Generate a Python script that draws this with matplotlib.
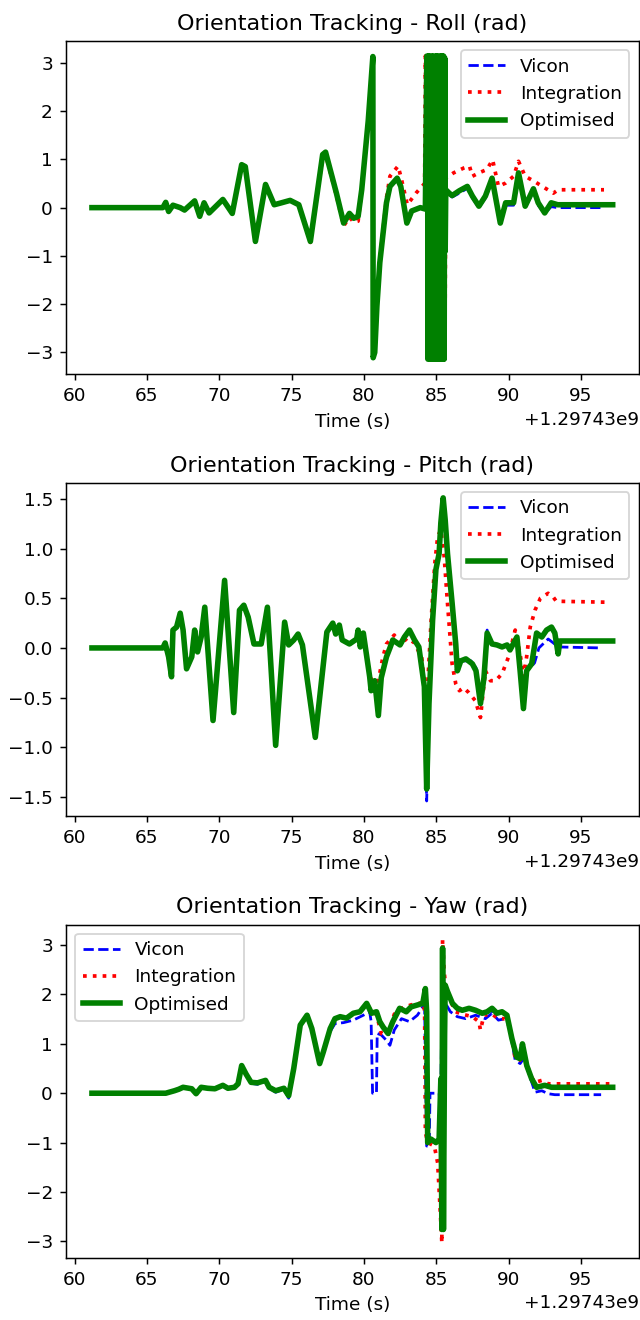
import numpy as np
import matplotlib.pyplot as plt

# time stamps are seconds after this epoch value
T0 = 1297430000.0

# ---- Roll ----
roll_opt_t = [61.2, 66.1, 66.3, 66.5, 66.8, 67.3, 67.6, 68.3, 68.65, 68.95, 69.3, 70.25, 70.9,
              71.55, 71.8, 72.5, 73.2, 73.8, 74.3, 74.9, 75.5, 76.3, 77.15, 77.35, 78.1, 78.6,
              79.0, 79.3, 79.6, 79.85, 80.3, 80.62, 80.64, 80.75, 80.9, 81.1, 81.56, 81.8, 82.3,
              82.55, 82.97, 83.3, 83.9, 84.25, 84.35,
              84.40, 84.43, 84.47, 84.51, 84.55, 84.59, 84.63, 84.67, 84.71, 84.75, 84.79, 84.83,
              84.87, 84.91, 84.95, 84.99, 85.03, 85.07, 85.11, 85.15, 85.19, 85.23, 85.27, 85.31,
              85.35, 85.39, 85.43, 85.47, 85.51, 85.55, 85.59, 85.62,
              85.66, 85.9, 86.1, 86.6, 87.15, 87.5, 87.95, 88.4, 88.86, 89.43, 89.8, 90.35, 90.69,
              91.15, 91.72, 92.05, 92.5, 92.95, 93.4, 97.2]
roll_opt = [0.0, 0.0, 0.11, -0.08, 0.05, 0.0, -0.05, 0.14, -0.18, 0.1, -0.11, 0.17, -0.12,
            0.89, 0.85, -0.7, 0.48, 0.06, 0.1, 0.15, 0.06, -0.7, 1.1, 1.15, 0.3, -0.32,
            -0.12, -0.22, -0.18, 0.37, 1.8, 3.13, -3.11, -3.0, -2.04, -1.14, 0.1, 0.44, 0.61,
            0.44, -0.32, -0.07, 0.0, -0.03, 3.14,
            3.14, -3.14, 3.14, -3.12, 3.14, -3.14, 3.13, -3.14, 3.14, -3.13, 3.14, -3.14,
            3.12, -3.14, 3.14, -3.14, 3.14, -3.13, 3.14, -3.14, 3.13, -3.14, 3.14, -3.14,
            3.14, -3.12, 3.14, -3.14, 3.14, -3.14, 3.1, -0.9,
            0.37, 0.3, 0.25, 0.35, 0.44, 0.24, 0.03, 0.24, 0.61, -0.32, 0.1, 0.1, 0.72,
            0.03, 0.39, 0.1, -0.11, 0.1, 0.06, 0.06]

roll_vic_t = [61.2, 66.1, 66.3, 66.5, 66.8, 67.3, 67.6, 68.3, 68.65, 68.95, 69.3, 70.25, 70.9,
              71.55, 71.8, 72.5, 73.2, 73.8, 74.3, 74.9, 75.5, 76.3, 77.15, 77.35, 78.1, 78.6,
              79.0, 79.3, 79.6, 79.85, 80.3, 80.62, 80.64, 80.9, 81.1, 81.56, 81.8, 82.3,
              82.55, 82.97, 83.3, 83.9, 84.25, 84.35, 84.6, 84.9, 85.2, 85.5, 85.62,
              85.66, 86.1, 86.6, 87.15, 87.5, 87.95, 88.4, 88.86, 89.43, 89.8, 90.35, 90.69,
              91.15, 91.72, 92.05, 92.5, 92.95, 93.4, 96.4]
roll_vic = [0.0, 0.0, 0.11, -0.08, 0.05, 0.0, -0.05, 0.14, -0.18, 0.1, -0.11, 0.17, -0.12,
            0.89, 0.85, -0.72, 0.48, 0.06, 0.1, 0.15, 0.06, -0.72, 1.1, 1.13, 0.3, -0.32,
            -0.12, -0.22, -0.18, 0.37, 1.8, 3.13, -3.11, -2.04, -1.14, 0.1, 0.42, 0.58,
            0.42, -0.32, -0.07, 0.0, -0.03, 3.14, -3.14, 3.14, -3.14, 3.14, -0.9,
            0.33, 0.22, 0.3, 0.4, 0.2, 0.0, 0.2, 0.55, -0.32, 0.05, 0.05, 0.65,
            0.0, 0.33, 0.05, -0.12, 0.02, 0.0, 0.0]

roll_int_t = [61.2, 66.1, 66.3, 66.5, 66.8, 67.3, 67.6, 68.3, 68.65, 68.95, 69.3, 70.25, 70.9,
              71.55, 71.8, 72.5, 73.2, 73.8, 74.3, 74.9, 75.5, 76.3, 77.15, 77.35, 78.1, 78.6,
              79.0, 79.3, 79.6, 79.85, 80.3, 80.62, 80.64, 80.9, 81.1, 81.56, 81.8, 82.36,
              82.55, 83.0, 83.6, 84.2, 84.25, 84.5, 84.7, 85.0, 85.3, 85.6,
              85.66, 86.2, 86.9, 87.3, 87.5, 87.95, 88.5, 88.9, 89.3, 89.8, 90.35, 90.69,
              91.15, 91.8, 92.5, 93.1, 93.43, 96.6]
roll_int = [0.0, 0.0, 0.11, -0.08, 0.05, 0.0, -0.05, 0.14, -0.18, 0.1, -0.11, 0.17, -0.12,
            0.89, 0.85, -0.7, 0.48, 0.06, 0.1, 0.15, 0.06, -0.72, 1.05, 1.1, 0.25, -0.38,
            -0.2, -0.3, -0.28, 0.35, 1.8, 3.13, -3.11, -2.04, -1.1, 0.2, 0.65, 0.86,
            0.65, 0.06, 0.3, 0.5, 3.14, -3.14, 3.14, -3.14, 3.14, -3.14,
            0.61, 0.72, 0.82, 0.86, 0.65, 0.72, 0.79, 0.99, 0.44, 0.51, 0.65, 0.96,
            0.65, 0.54, 0.41, 0.3, 0.37, 0.37]

# ---- Pitch ----
pitch_opt_t = [61.2, 66.1, 66.26, 66.5, 66.7, 66.8, 67.05, 67.3, 67.5, 67.74, 68.1, 68.3, 68.5,
               68.75, 69.0, 69.57, 70.37, 71.0, 71.4, 71.7, 72.0, 72.4, 72.9, 73.33, 73.9,
               74.52, 74.8, 75.15, 75.45, 75.75, 76.64, 77.44, 77.85, 78.05, 78.3, 78.5, 79.0,
               79.5, 79.6, 79.75, 79.96, 80.2, 80.4, 80.5, 80.75, 81.0, 81.2, 81.56, 81.8, 82.0,
               82.5, 82.8, 83.15, 83.5, 83.8, 84.18, 84.34, 84.5, 84.75, 84.98, 85.2, 85.32,
               85.48, 85.62, 85.78, 86.1, 86.35, 86.46, 86.7, 87.05, 87.5, 87.75, 88.06, 88.3,
               88.52, 88.86, 89.2, 89.55, 89.9, 90.1, 90.58, 90.8, 91.03, 91.25, 91.6, 91.94,
               92.3, 92.63, 92.97, 93.2, 93.43, 93.55, 97.2]
pitch_opt = [0.0, 0.0, 0.05, -0.09, -0.29, 0.18, 0.21, 0.35, 0.18, -0.21, -0.09, 0.18, -0.04,
             0.11, 0.41, -0.73, 0.68, -0.65, 0.38, 0.43, 0.31, 0.04, 0.04, 0.41, -0.98,
             0.26, 0.03, 0.08, 0.14, 0.03, -0.9, 0.16, 0.25, 0.14, 0.23, 0.08, 0.04,
             0.09, 0.18, 0.01, 0.15, -0.09, -0.29, -0.43, -0.33, -0.68, -0.3, -0.09, 0.0, 0.08,
             0.03, 0.11, 0.18, 0.08, 0.01, -0.39, -1.42, -0.56, 0.28, 0.79, 0.95, 1.26,
             1.51, 1.29, 0.95, 0.45, 0.04, -0.23, -0.13, -0.11, -0.16, -0.23, -0.56, -0.3,
             0.15, 0.04, 0.03, 0.01, 0.03, -0.02, 0.11, -0.23, -0.61, -0.23, -0.16, 0.15,
             0.11, 0.18, 0.21, 0.15, -0.06, 0.07, 0.07]

pitch_vic_t = [61.2, 66.1, 66.26, 66.5, 66.7, 66.8, 67.05, 67.3, 67.5, 67.74, 68.1, 68.3, 68.5,
               68.75, 69.0, 69.57, 70.37, 71.0, 71.4, 71.7, 72.0, 72.4, 72.9, 73.33, 73.9,
               74.52, 74.8, 75.15, 75.45, 75.75, 76.64, 77.44, 77.85, 78.05, 78.3, 78.5, 79.0,
               79.5, 79.6, 79.75, 79.96, 80.2, 80.4, 80.5, 80.75, 81.0, 81.2, 81.56, 81.8, 82.0,
               82.5, 82.8, 83.15, 83.5, 83.8, 84.18, 84.34, 84.5, 84.75, 84.98, 85.2, 85.32,
               85.48, 85.62, 85.78, 86.1, 86.35, 86.46, 86.8, 87.4, 87.75, 88.06, 88.3,
               88.52, 88.86, 89.2, 89.55, 89.9, 90.1, 90.58, 90.8, 91.03, 91.25, 91.5, 91.8,
               92.1, 92.74, 93.1, 93.43, 96.4]
pitch_vic = [0.0, 0.0, 0.05, -0.09, -0.29, 0.18, 0.21, 0.35, 0.18, -0.21, -0.09, 0.18, -0.04,
             0.11, 0.41, -0.73, 0.68, -0.65, 0.38, 0.43, 0.31, 0.04, 0.04, 0.41, -0.98,
             0.26, 0.03, 0.08, 0.14, 0.03, -0.9, 0.16, 0.25, 0.14, 0.23, 0.08, 0.04,
             0.09, 0.18, 0.01, 0.15, -0.09, -0.29, -0.43, -0.33, -0.68, -0.3, -0.09, 0.0, 0.08,
             0.03, 0.11, 0.18, 0.08, 0.01, -0.39, -1.54, -0.56, 0.28, 0.79, 0.95, 1.26,
             1.5, 1.29, 0.95, 0.45, 0.04, -0.1, -0.13, -0.13, -0.2, -0.56, -0.3,
             0.18, 0.04, 0.03, 0.01, 0.03, -0.02, 0.11, -0.23, -0.6, -0.23, -0.2, -0.15,
             0.0, 0.09, 0.05, 0.01, 0.0]

pitch_int_t = [61.2, 66.1, 66.26, 66.5, 66.7, 66.8, 67.05, 67.3, 67.5, 67.74, 68.1, 68.3, 68.5,
               68.75, 69.0, 69.57, 70.37, 71.0, 71.4, 71.7, 72.0, 72.4, 72.9, 73.33, 73.9,
               74.52, 74.8, 75.15, 75.45, 75.75, 76.64, 77.44, 77.85, 78.05, 78.3, 78.5, 79.0,
               79.5, 79.6, 79.75, 79.96, 80.2, 80.4, 80.7, 81.0, 81.3, 81.56, 82.1, 82.5,
               83.0, 83.5, 84.0, 84.34, 84.65, 84.9, 85.1, 85.32, 85.55, 85.78, 86.1, 86.35,
               86.6, 86.9, 87.25, 87.7, 88.06, 88.4, 88.75, 89.1, 89.55, 90.0, 90.46, 90.8,
               91.03, 91.25, 91.5, 91.83, 92.2, 92.74, 93.1, 93.3, 96.85]
pitch_int = [0.0, 0.0, 0.05, -0.09, -0.29, 0.18, 0.21, 0.35, 0.18, -0.21, -0.09, 0.18, -0.04,
             0.11, 0.41, -0.73, 0.68, -0.65, 0.38, 0.43, 0.31, 0.04, 0.04, 0.41, -0.98,
             0.26, 0.03, 0.08, 0.14, 0.03, -0.9, 0.16, 0.25, 0.14, 0.23, 0.08, 0.04,
             0.09, 0.18, 0.01, 0.15, -0.09, -0.29, -0.35, -0.33, -0.1, 0.04, 0.13, 0.03,
             0.1, 0.05, -0.1, -0.56, 0.28, 0.85, 1.12, 1.19, 0.92, 0.45, -0.16, -0.36,
             -0.43, -0.4, -0.45, -0.53, -0.7, -0.23, -0.33, -0.33, -0.26, -0.09, 0.18, -0.06,
             -0.29, -0.09, 0.21, 0.38, 0.5, 0.55, 0.51, 0.47, 0.46]

# ---- Yaw ----
yaw_opt_t = [61.2, 66.3, 66.9, 67.2, 67.5, 68.1, 68.4, 68.75, 69.2, 69.7, 70.25, 70.6, 71.05,
             71.3, 71.55, 71.85, 72.2, 72.65, 73.2, 73.45, 73.9, 74.47, 74.8, 75.15, 75.6,
             76.07, 76.4, 76.94, 77.2, 77.67, 78.0, 78.36, 78.8, 79.27, 79.73, 80.19, 80.53,
             80.87, 81.1, 81.33, 81.67, 82.0, 82.47, 82.93, 83.27, 83.73, 84.07, 84.25, 84.34,
             84.41, 84.64, 84.98, 85.2, 85.32, 85.39, 85.44, 85.5, 85.58, 85.62, 85.78, 86.12,
             86.46, 86.8, 87.27, 87.72, 88.18, 88.52, 88.86, 89.2, 89.55, 89.89, 90.23, 90.57,
             90.8, 90.96, 91.26, 91.6, 91.94, 92.5, 92.97, 97.2]
yaw_opt = [0.0, 0.0, 0.05, 0.08, 0.12, 0.09, -0.01, 0.12, 0.1, 0.09, 0.16, 0.1, 0.12,
           0.19, 0.56, 0.39, 0.22, 0.21, 0.26, 0.12, 0.05, 0.1, -0.05, 0.5, 1.38,
           1.58, 1.31, 0.6, 0.84, 1.31, 1.51, 1.55, 1.52, 1.62, 1.65, 1.82, 1.62,
           1.65, 1.45, 1.34, 1.21, 1.45, 1.72, 1.65, 1.75, 1.79, 1.82, 2.12, 1.65,
           -1.0, -0.93, -1.0, -0.93, 0.29, -2.76, 2.94, -2.76, 1.18, 2.19, 2.06, 1.82,
           1.72, 1.68, 1.72, 1.68, 1.62, 1.65, 1.72, 1.62, 1.65, 1.58, 1.11, 0.73,
           0.7, 1.0, 0.56, 0.29, 0.12, 0.16, 0.12, 0.12]

yaw_vic_t = [61.2, 66.3, 66.9, 67.2, 67.5, 68.1, 68.4, 68.75, 69.2, 69.7, 70.25, 70.6, 71.05,
             71.3, 71.55, 71.85, 72.2, 72.65, 73.2, 73.45, 73.9, 74.47, 74.8, 75.15, 75.6,
             76.07, 76.4, 76.94, 77.2, 77.67, 78.0, 78.6, 79.27, 79.96, 80.4, 80.5, 80.6,
             80.87, 80.92, 81.2, 81.56, 81.8, 82.1, 82.6, 83.15, 83.7, 84.07, 84.2, 84.34,
             84.52, 84.57, 85.2, 85.3, 85.44, 85.58, 85.98, 86.46, 87.04, 87.72, 88.4, 88.86,
             89.3, 89.77, 90.0, 90.46, 90.8, 91.03, 91.37, 91.83, 92.3, 92.74, 93.2, 96.4]
yaw_vic = [0.0, 0.0, 0.05, 0.08, 0.12, 0.09, -0.01, 0.12, 0.1, 0.09, 0.16, 0.1, 0.12,
           0.19, 0.56, 0.39, 0.2, 0.18, 0.24, 0.1, 0.02, 0.08, -0.1, 0.5, 1.38,
           1.58, 1.31, 0.62, 0.84, 1.25, 1.41, 1.43, 1.48, 1.58, 1.65, 1.45, 0.0,
           0.0, 1.21, 1.18, 1.07, 0.97, 1.28, 1.51, 1.45, 1.58, 1.75, 1.71, -1.07,
           -1.07, 0.0, 0.0, -0.4, 2.87, 1.85, 1.65, 1.55, 1.51, 1.58, 1.51, 1.62,
           1.48, 1.51, 1.41, 0.67, 0.6, 0.7, 0.43, 0.02, 0.05, -0.01, -0.03, -0.03]

yaw_int_t = [61.2, 66.3, 66.9, 67.2, 67.5, 68.1, 68.4, 68.75, 69.2, 69.7, 70.25, 70.6, 71.05,
             71.3, 71.55, 71.85, 72.2, 72.65, 73.2, 73.45, 73.9, 74.47, 74.8, 75.15, 75.6,
             76.07, 76.4, 76.94, 77.2, 77.67, 78.0, 78.36, 78.8, 79.27, 79.73, 80.19, 80.53,
             80.87, 81.2, 81.67, 82.1, 82.6, 83.27, 83.84, 84.1, 84.2, 84.25, 84.41, 84.87,
             85.1, 85.26, 85.39, 85.44, 85.55, 85.67, 85.9, 86.35, 86.8, 87.5, 87.95, 88.06,
             88.3, 88.86, 89.3, 89.77, 90.12, 90.46, 90.8, 91.03, 91.5, 91.83, 92.3, 92.74, 96.97]
yaw_int = [0.0, 0.0, 0.05, 0.08, 0.12, 0.09, -0.01, 0.12, 0.1, 0.09, 0.16, 0.1, 0.12,
           0.19, 0.56, 0.39, 0.22, 0.21, 0.26, 0.12, 0.05, 0.1, -0.05, 0.5, 1.38,
           1.58, 1.31, 0.62, 0.84, 1.31, 1.51, 1.55, 1.52, 1.62, 1.65, 1.82, 1.65,
           1.6, 1.21, 1.17, 1.6, 1.72, 1.79, 1.82, 1.85, 1.65, -0.79, -1.0, -1.07,
           -1.41, -2.29, -3.03, 3.11, 2.46, 2.12, 1.92, 1.65, 1.6, 1.55, 1.45, 1.28,
           1.58, 1.6, 1.51, 1.51, 1.31, 0.7, 0.67, 0.87, 0.36, 0.22, 0.26, 0.19, 0.19]

panels = [
    ("Orientation Tracking - Roll (rad)", roll_vic_t, roll_vic, roll_int_t, roll_int,
     roll_opt_t, roll_opt, "upper right"),
    ("Orientation Tracking - Pitch (rad)", pitch_vic_t, pitch_vic, pitch_int_t, pitch_int,
     pitch_opt_t, pitch_opt, "upper right"),
    ("Orientation Tracking - Yaw (rad)", yaw_vic_t, yaw_vic, yaw_int_t, yaw_int,
     yaw_opt_t, yaw_opt, "upper left"),
]

DPI = 133.334
fig, axes = plt.subplots(3, 1, figsize=(4.8, 9.9), dpi=DPI)

for ax, (title, vt, v, it, iv, ot, ov, loc) in zip(axes, panels):
    ax.plot(T0 + np.array(vt), v, 'b--', linewidth=1.5, label='Vicon')
    ax.plot(T0 + np.array(it), iv, 'r:', linewidth=2, label='Integration')
    ax.plot(T0 + np.array(ot), ov, 'g-', linewidth=3, label='Optimised')
    ax.set_title(title)
    ax.set_xlabel("Time (s)")
    ax.legend(loc=loc)

fig.subplots_adjust(left=0.103, right=0.998, top=0.969, bottom=0.047, hspace=0.325)
plt.savefig("out.png", dpi=DPI)
